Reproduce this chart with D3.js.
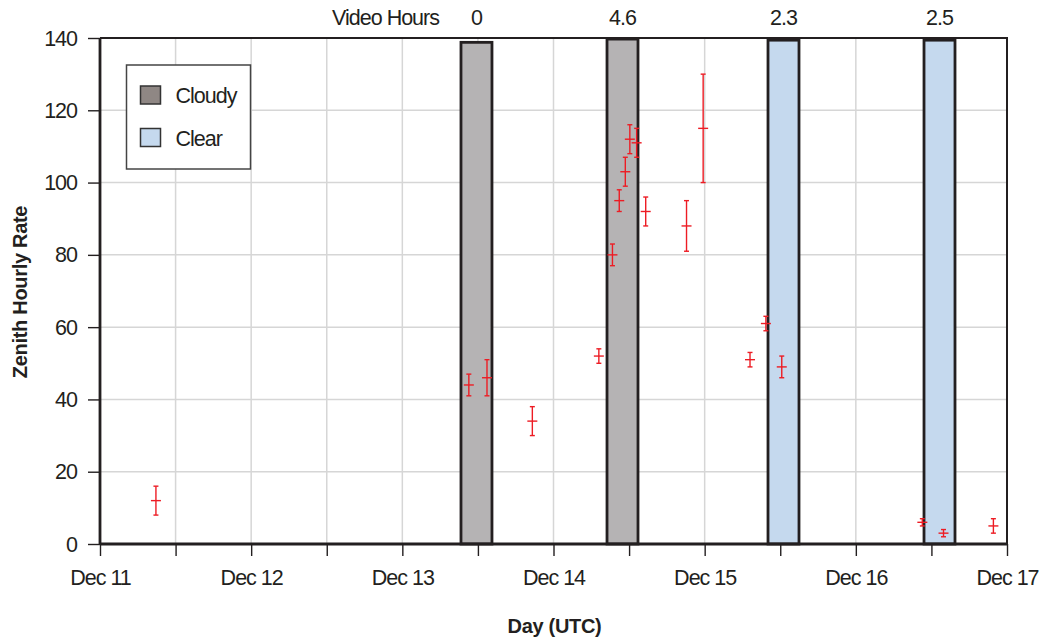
<!DOCTYPE html>
<html>
<head>
<meta charset="utf-8">
<script src="https://cdn.jsdelivr.net/npm/d3@7"></script>
<style>
  body { margin: 0; background: #fff; }
  text { font-family: "Liberation Sans", Arial, sans-serif; fill: #231f20; }
  .lbl { font-size: 21.5px; letter-spacing: -1px; }
  .ttl { font-size: 20px; font-weight: bold; letter-spacing: -0.3px; }
</style>
</head>
<body>
<script>
var width = 1044;
var height = 640;
var margin = {top: 38, right: 37, bottom: 96, left: 100};
var innerW = width - margin.left - margin.right;
var innerH = height - margin.top - margin.bottom;

// observation days (December, UTC, fractional day)
var obsDay   = [11.37, 13.44, 13.56, 13.86, 14.30, 14.39, 14.435, 14.475, 14.505, 14.55,
                14.61, 14.88, 14.99, 15.30, 15.405, 15.51, 16.44, 16.58, 16.91];
var zhr      = [12, 44, 46, 34, 52, 80, 95, 103, 112, 111,
                92, 88, 115, 51, 61, 49, 6, 3, 5];
var zhrErr   = [4, 3, 5, 4, 2, 3, 3, 4, 4, 4,
                4, 7, 15, 2, 2, 3, 1, 1, 2];

// video windows
var winStart = [13.388, 14.354, 15.419, 16.451];
var winEnd   = [13.593, 14.559, 15.624, 16.656];
var winTop   = [138.8, 139.7, 139.4, 139.4];
var winSky   = ["Cloudy", "Cloudy", "Clear", "Clear"];
var videoHours = ["0", "4.6", "2.3", "2.5"];

var yTicks = [0, 20, 40, 60, 80, 100, 120, 140];
var xTicks = d3.range(11, 17.01, 0.5);

var skyFill = {Cloudy: "#b5b3b4", Clear: "#c5d9ee"};
var legendFill = {Cloudy: "#8f8784", Clear: "#c5d9ee"};

var svg = d3.select("body").append("svg")
  .attr("width", width)
  .attr("height", height);

var g = svg.append("g")
  .attr("transform", "translate(" + margin.left + "," + margin.top + ")");

var x = d3.scaleLinear().domain([11, 17]).range([0, innerW]);
var y = d3.scaleLinear().domain([0, 140]).range([innerH, 0]);

// grid
g.append("g").selectAll("line")
  .data(yTicks.slice(1, -1))
  .enter().append("line")
  .attr("x1", 0).attr("x2", innerW)
  .attr("y1", function(d) { return y(d); })
  .attr("y2", function(d) { return y(d); })
  .attr("stroke", "#d6d6d6").attr("stroke-width", 1.5);

g.append("g").selectAll("line")
  .data(xTicks.slice(1, -1))
  .enter().append("line")
  .attr("y1", 0).attr("y2", innerH)
  .attr("x1", function(d) { return x(d); })
  .attr("x2", function(d) { return x(d); })
  .attr("stroke", "#d6d6d6").attr("stroke-width", 1.5);

// video window bars
var bars = winStart.map(function(s, i) {
  return {s: s, e: winEnd[i], top: winTop[i], sky: winSky[i], hours: videoHours[i]};
});

g.selectAll("rect.win")
  .data(bars)
  .enter().append("rect")
  .attr("class", "win")
  .attr("x", function(d) { return x(d.s); })
  .attr("width", function(d) { return x(d.e) - x(d.s); })
  .attr("y", function(d) { return y(d.top); })
  .attr("height", function(d) { return y(0) - y(d.top); })
  .attr("fill", function(d) { return skyFill[d.sky]; })
  .attr("stroke", "#231f20")
  .attr("stroke-width", 2.8);

// video hour labels above plot
svg.append("text")
  .attr("class", "lbl")
  .attr("x", 439).attr("y", 25)
  .attr("text-anchor", "end")
  .text("Video Hours");

svg.selectAll("text.vh")
  .data(bars)
  .enter().append("text")
  .attr("class", "vh lbl")
  .attr("x", function(d) { return margin.left + x((d.s + d.e) / 2); })
  .attr("y", 25)
  .attr("text-anchor", "middle")
  .text(function(d) { return d.hours; });

// error bars
var pts = obsDay.map(function(d, i) {
  return {x: d, y: zhr[i], err: zhrErr[i]};
});
var eb = g.selectAll("g.pt")
  .data(pts)
  .enter().append("g")
  .attr("class", "pt")
  .attr("stroke", "#ed1c24")
  .attr("stroke-width", 1.4);

eb.append("line")
  .attr("x1", function(d) { return x(d.x); })
  .attr("x2", function(d) { return x(d.x); })
  .attr("y1", function(d) { return y(d.y + d.err); })
  .attr("y2", function(d) { return y(d.y - d.err); });
eb.append("line")
  .attr("x1", function(d) { return x(d.x) - 5; })
  .attr("x2", function(d) { return x(d.x) + 5; })
  .attr("y1", function(d) { return y(d.y); })
  .attr("y2", function(d) { return y(d.y); });
eb.append("line")
  .attr("x1", function(d) { return x(d.x) - 2.5; })
  .attr("x2", function(d) { return x(d.x) + 2.5; })
  .attr("y1", function(d) { return y(d.y + d.err); })
  .attr("y2", function(d) { return y(d.y + d.err); });
eb.append("line")
  .attr("x1", function(d) { return x(d.x) - 2.5; })
  .attr("x2", function(d) { return x(d.x) + 2.5; })
  .attr("y1", function(d) { return y(d.y - d.err); })
  .attr("y2", function(d) { return y(d.y - d.err); });

// frame (top and right)
g.append("path")
  .attr("d", "M0,0H" + innerW + "V" + innerH)
  .attr("fill", "none")
  .attr("stroke", "#231f20")
  .attr("stroke-width", 2);

// axes
var yAxis = d3.axisLeft(y).tickValues(yTicks).tickSize(12).tickPadding(11);
var xAxis = d3.axisBottom(x).tickValues(xTicks).tickSize(12).tickPadding(14)
  .tickFormat(function(d) { return Number.isInteger(d) ? "Dec " + d : ""; });

var ya = g.append("g").call(yAxis);
var xa = g.append("g").attr("transform", "translate(0," + innerH + ")").call(xAxis);

[ya, xa].forEach(function(a) {
  a.attr("font-size", null).attr("font-family", null);
  a.select(".domain").attr("stroke", "#231f20").attr("stroke-width", 2.8)
    .attr("d", a === ya ? "M0,0V" + innerH : "M0,0H" + innerW);
  a.selectAll(".tick line").attr("stroke", "#231f20").attr("stroke-width", 1.4);
  a.selectAll(".tick text").attr("class", "lbl").attr("fill", "#231f20");
});
ya.selectAll(".tick text").attr("dy", "0.33em");

// axis titles
svg.append("text")
  .attr("class", "ttl")
  .attr("transform", "translate(27," + (margin.top + innerH / 2 + 1) + ") rotate(-90)")
  .attr("text-anchor", "middle")
  .text("Zenith Hourly Rate");

svg.append("text")
  .attr("class", "ttl")
  .attr("x", margin.left + innerW / 2 + 1)
  .attr("y", 633)
  .attr("text-anchor", "middle")
  .text("Day (UTC)");

// legend
var legend = svg.append("g").attr("transform", "translate(126.5,65)");
legend.append("rect")
  .attr("width", 124).attr("height", 104)
  .attr("fill", "#fff").attr("stroke", "#444").attr("stroke-width", 1.5);

var legItems = ["Cloudy", "Clear"];
var li = legend.selectAll("g.li")
  .data(legItems)
  .enter().append("g")
  .attr("class", "li")
  .attr("transform", function(d, i) { return "translate(14," + (21 + i * 42.5) + ")"; });
li.append("rect")
  .attr("width", 20).attr("height", 18)
  .attr("fill", function(d) { return legendFill[d]; })
  .attr("stroke", "#333").attr("stroke-width", 1.5);
li.append("text")
  .attr("class", "lbl")
  .attr("x", 35).attr("y", 17)
  .text(function(d) { return d; });
</script>
</body>
</html>
